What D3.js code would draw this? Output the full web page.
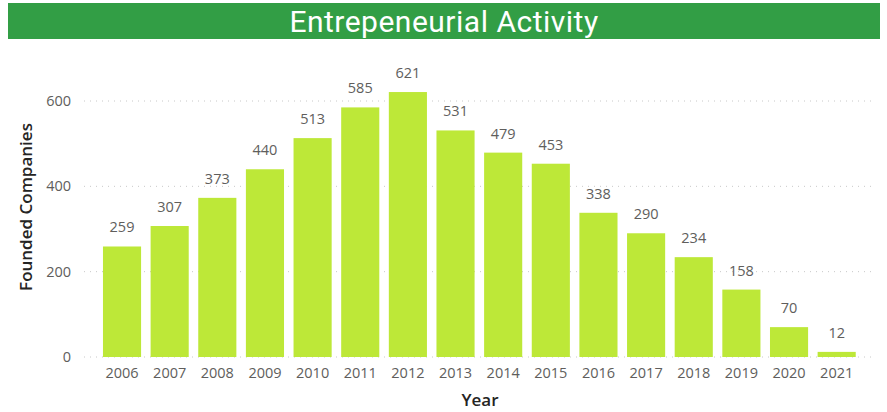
<!DOCTYPE html>
<html><head><meta charset="utf-8">
<script src="https://cdn.jsdelivr.net/npm/d3@7"></script>
<style>body{margin:0;background:#fff}svg{display:block}</style>
</head><body>
<svg id="c" width="887" height="412"></svg>
<script>
const years = ["2006","2007","2008","2009","2010","2011","2012","2013","2014","2015","2016","2017","2018","2019","2020","2021"];
const founded = [259,307,373,440,513,585,621,531,479,453,338,290,234,158,70,12];
const yTicks = [0,200,400,600];

const svg = d3.select("#c");
const font = "'Open Sans', 'Noto Sans', sans-serif";

svg.append("rect").attr("x",8).attr("y",3).attr("width",872).attr("height",36).attr("fill","#329E45");
svg.append("text").attr("x",444).attr("y",32).attr("text-anchor","middle")
  .attr("fill","#fff").attr("font-family","Roboto, sans-serif").attr("font-size",30)
  .attr("letter-spacing","0.5").text("Entrepeneurial Activity");

const x = d3.scaleBand().domain(years).range([98.2,860.5]).paddingInner(0.2).paddingOuter(0.1);
const y = d3.scaleLinear().domain([0,600]).range([357,101]);

svg.append("g").selectAll("line").data(yTicks).join("line")
  .attr("x1",84).attr("x2",876).attr("y1",d=>y(d)).attr("y2",d=>y(d))
  .attr("stroke","#c8c8c8").attr("stroke-width",1).attr("stroke-dasharray","1,5");

const yAxis = d3.axisLeft(y).tickValues(yTicks).tickSize(0).tickPadding(0);
const gy = svg.append("g").attr("transform","translate(71,0)").call(yAxis);
gy.select(".domain").remove();
gy.selectAll("text").attr("font-family",font).attr("font-size",14.5).attr("fill","#605E5C");

svg.append("g").selectAll("rect").data(founded).join("rect")
  .attr("x",(d,i)=>x(years[i])).attr("width",x.bandwidth())
  .attr("y",d=>y(d)).attr("height",d=>y(0)-y(d)).attr("fill","#BDE838");

svg.append("g").selectAll("text").data(founded).join("text")
  .attr("x",(d,i)=>x(years[i])+x.bandwidth()/2).attr("y",d=>y(d)-14)
  .attr("text-anchor","middle").attr("font-family",font).attr("font-size",14.5).attr("fill","#605E5C")
  .text(d=>d);

const xAxis = d3.axisBottom(x).tickSize(0).tickPadding(0);
const gx = svg.append("g").attr("transform","translate(0,365)").call(xAxis);
gx.select(".domain").remove();
gx.selectAll("text").attr("font-family",font).attr("font-size",14.5).attr("fill","#605E5C").attr("dy","0.9em");

svg.append("text").attr("x",480).attr("y",405.5).attr("text-anchor","middle")
  .attr("font-family",font).attr("font-size",17).attr("font-weight",600).attr("fill","#252423").text("Year");
svg.append("text").attr("transform","translate(32,207) rotate(-90)").attr("text-anchor","middle")
  .attr("font-family",font).attr("font-size",17).attr("font-weight",600).attr("fill","#252423").text("Founded Companies");
</script>
</body></html>
